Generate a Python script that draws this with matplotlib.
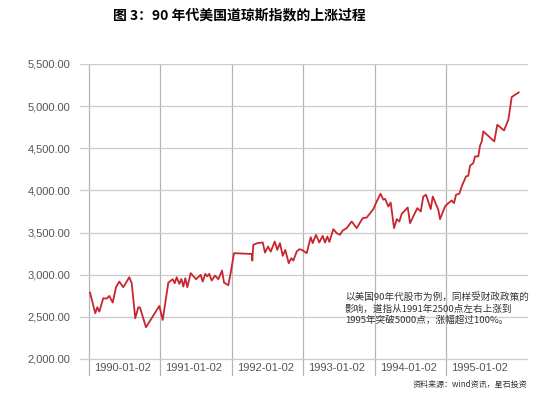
import matplotlib
matplotlib.use('Agg')
import matplotlib.pyplot as plt
import matplotlib.transforms as mtransforms

plt.rcParams['font.family'] = ['Liberation Sans', 'Noto Sans CJK SC', 'DejaVu Sans']

# 道指数据（按年份小数读取）
years = [1990.014, 1990.088, 1990.116, 1990.144, 1990.200, 1990.248, 1990.284, 1990.332,
         1990.378, 1990.424, 1990.480, 1990.564, 1990.598, 1990.648, 1990.690, 1990.714,
         1990.798, 1990.985, 1991.032, 1991.111, 1991.172, 1991.200, 1991.228, 1991.265,
         1991.293, 1991.321, 1991.349, 1991.377, 1991.424, 1991.499, 1991.564, 1991.592,
         1991.629, 1991.657, 1991.685, 1991.718, 1991.765, 1991.811, 1991.863, 1991.891,
         1991.951, 1991.985, 1992.031, 1992.245, 1992.279, 1992.287, 1992.301, 1992.357,
         1992.433, 1992.465, 1992.507, 1992.545, 1992.601, 1992.637, 1992.675, 1992.713,
         1992.749, 1992.797, 1992.833, 1992.861, 1992.909, 1992.945, 1992.983, 1993.049,
         1993.105, 1993.133, 1993.179, 1993.225, 1993.273, 1993.305, 1993.338, 1993.366,
         1993.422, 1993.469, 1993.515, 1993.553, 1993.609, 1993.679, 1993.749, 1993.833,
         1993.889, 1993.945, 1993.982, 1994.029, 1994.083, 1994.122, 1994.146, 1994.192,
         1994.225, 1994.272, 1994.310, 1994.346, 1994.380, 1994.464, 1994.496, 1994.598,
         1994.646, 1994.682, 1994.720, 1994.786, 1994.814, 1994.892, 1994.916, 1994.986,
         1995.032, 1995.080, 1995.112, 1995.140, 1995.186, 1995.220, 1995.280, 1995.312,
         1995.336, 1995.382, 1995.406, 1995.452, 1995.476, 1995.500, 1995.522, 1995.676,
         1995.718, 1995.812, 1995.873, 1995.920, 1996.018]
dow = [2787, 2543, 2614, 2562, 2721, 2716, 2748, 2669,
       2851, 2918, 2851, 2970, 2899, 2483, 2614, 2610,
       2376, 2629, 2463, 2906, 2946, 2899, 2970, 2891,
       2950, 2859, 2958, 2851, 3018, 2946, 2998, 2918,
       3009, 2980, 3009, 2930, 2990, 2946, 3049, 2906,
       2875, 3025, 3255, 3247, 3247, 3167, 3354, 3374,
       3382, 3262, 3334, 3274, 3393, 3294, 3374, 3223,
       3294, 3136, 3196, 3167, 3274, 3302, 3294, 3255,
       3445, 3374, 3473, 3382, 3461, 3382, 3453, 3389,
       3540, 3493, 3473, 3524, 3552, 3631, 3552, 3671,
       3678, 3738, 3778, 3868, 3960, 3890, 3900, 3809,
       3856, 3552, 3659, 3631, 3722, 3797, 3611, 3790,
       3750, 3928, 3948, 3778, 3928, 3770, 3659, 3809,
       3849, 3880, 3849, 3948, 3960, 4047, 4166, 4174,
       4292, 4324, 4403, 4403, 4530, 4581, 4700, 4581,
       4779, 4711, 4838, 5108, 5162]

tick_years = [1990, 1991, 1992, 1993, 1994, 1995]
tick_labels = ['1990-01-02', '1991-01-02', '1992-01-02', '1993-01-02', '1994-01-02', '1995-01-02']
y_ticks = [2000, 2500, 3000, 3500, 4000, 4500, 5000, 5500]

fig = plt.figure(figsize=(5.45, 3.96), dpi=100)
ax = fig.add_axes([0.1468, 0.0505, 0.822, 0.788])

ax.plot(years, dow, color='#c8262e', lw=1.3, zorder=3)

ax.set_xlim(1989.874, 1996.148)
ax.set_ylim(1798, 5500)
ax.set_yticks(y_ticks)
ax.set_yticklabels(['{:,.2f}'.format(v) for v in y_ticks])
ax.set_xticks(tick_years)
ax.set_xticklabels([])
ax.tick_params(axis='both', length=0)
ax.tick_params(axis='y', pad=7, labelsize=8, labelcolor='#555555')
ax.grid(axis='y', color='#cccccc', lw=0.9)
ax.grid(axis='x', color='#b5b5b5', lw=0.9)
ax.set_axisbelow(True)
for s in ax.spines.values():
    s.set_visible(False)

trans = mtransforms.blended_transform_factory(ax.transData, ax.transAxes)
for yr, lab in zip(tick_years, tick_labels):
    ax.text(yr + 0.07, 0.026, lab, transform=trans, ha='left', va='center',
            fontsize=8, color='#555555')

fig.text(0.44, 0.962, '图 3：90 年代美国道琼斯指数的上涨过程', ha='center', va='center',
         fontsize=10, fontweight='bold', family=['Noto Sans CJK SC', 'DejaVu Sans'])

note = ('以美国90年代股市为例，同样受财政政策的\n'
        '影响，道指从1991年2500点左右上涨到\n'
        '1995年突破5000点，涨幅超过100%。')
fig.text(0.633, 0.262, note, ha='left', va='top', fontsize=6.9, color='#333333',
         linespacing=1.3, family=['Noto Sans CJK SC', 'DejaVu Sans'])

fig.text(0.967, 0.03, '资料来源：wind资讯，星石投资', ha='right', va='center',
         fontsize=5.8, color='#333333', family=['Noto Sans CJK SC', 'DejaVu Sans'])

fig.savefig('out.png', dpi=100)
